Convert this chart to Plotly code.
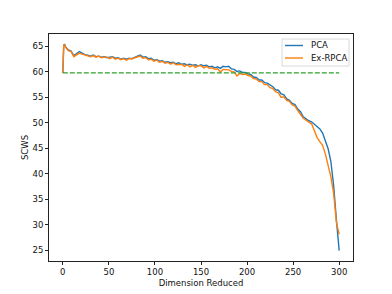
import plotly.graph_objects as go

x_vals = [0, 1, 2] + list(range(3, 301, 3))

pca = [59.8, 65.3, 65.4, 64.9, 64.3, 64.1, 63.2, 63.6, 64.0, 63.7, 63.4, 63.3,
       63.1, 63.3, 63.0, 63.1, 62.9, 63.0, 62.8, 62.9, 63.0, 62.7, 62.8, 62.5,
       62.7, 62.5, 62.7, 62.6, 62.9, 63.1, 63.3, 62.9, 63.0, 62.6, 62.7, 62.3,
       62.4, 62.1, 62.2, 61.9, 62.0, 61.8, 61.9, 61.6, 61.8, 61.5, 61.6, 61.4,
       61.5, 61.3, 61.4, 61.2, 61.4, 61.2, 61.3, 61.0, 61.1, 60.8, 61.0, 60.7,
       61.1, 61.0, 61.1, 60.6, 60.5, 60.1, 60.2, 59.9, 59.9, 59.6, 59.5, 59.0,
       58.9, 58.4, 58.4, 57.9, 57.8, 57.4, 57.1, 56.5, 56.4, 55.7, 55.5, 54.7,
       54.4, 53.8, 53.6, 52.7, 52.2, 51.2, 50.8, 50.4, 50.2, 49.7, 49.4, 48.8,
       48.0, 46.4, 44.9, 42.4, 37.6, 30.9, 24.9]

ex_rpca = [59.8, 65.2, 65.3, 64.8, 64.2, 64.0, 63.0, 63.4, 63.7, 63.5, 63.3, 63.2,
           63.0, 63.2, 62.9, 63.1, 62.8, 62.9, 62.9, 62.6, 62.9, 62.5, 62.7, 62.4,
           62.6, 62.3, 62.6, 62.6, 62.8, 62.9, 63.1, 62.7, 62.8, 62.4, 62.5, 62.1,
           62.3, 61.9, 62.1, 61.7, 61.9, 61.5, 61.8, 61.4, 61.5, 61.5, 61.1, 61.4,
           61.0, 61.3, 60.9, 61.2, 61.2, 60.8, 61.1, 60.7, 60.8, 60.5, 60.6, 60.0,
           60.5, 60.4, 60.4, 60.1, 60.0, 59.2, 59.7, 59.5, 59.6, 59.3, 59.2, 58.7,
           58.6, 58.1, 58.1, 57.5, 57.5, 56.9, 56.7, 56.1, 55.9, 55.0, 55.1, 54.4,
           54.2, 53.5, 53.3, 52.4, 51.7, 50.9, 50.5, 50.1, 49.8, 48.5, 47.1, 46.3,
           45.6, 43.9, 41.9, 39.4, 36.1, 30.4, 28.1]

baseline_x = [0, 300]
baseline_y = [59.8, 59.8]

series_names = ["PCA", "Ex-RPCA"]
series_colors = ["#1f77b4", "#ff7f0e"]

x_ticks = [0, 50, 100, 150, 200, 250, 300]
y_ticks = [25, 30, 35, 40, 45, 50, 55, 60, 65]

FONT = "DejaVu Sans"
# page body has an 8px default margin; size the figure so the window shows 392x294
OFF = 8
W, H = 392 - OFF, 294 - OFF
ML, MR, MT, MB = 49 - OFF, 39, 34 - OFF, 33

fig = go.Figure()
fig.add_trace(go.Scatter(x=x_vals, y=pca, mode="lines", name=series_names[0],
                         line=dict(color=series_colors[0], width=1.4)))
fig.add_trace(go.Scatter(x=x_vals, y=ex_rpca, mode="lines", name=series_names[1],
                         line=dict(color=series_colors[1], width=1.4)))
fig.add_trace(go.Scatter(x=baseline_x, y=baseline_y, mode="lines", showlegend=False,
                         line=dict(color="#2ca02c", width=1.3, dash="5px,2px")))

axis_common = dict(showgrid=False, zeroline=False, showline=True, mirror=True,
                   linecolor="#222", linewidth=0.8, ticks="outside", ticklen=3,
                   tickwidth=0.8, tickcolor="#222", automargin=False,
                   tickfont=dict(family=FONT, size=8.5, color="#111"))

fig.update_layout(
    width=W, height=H,
    margin=dict(l=ML, r=MR, t=MT, b=MB),
    paper_bgcolor="white", plot_bgcolor="white",
    showlegend=False,
    font=dict(family=FONT, size=8.5, color="#111"),
    xaxis=dict(range=[-15, 315], tickvals=x_ticks,
               title=dict(text="Dimension Reduced", standoff=3,
                          font=dict(family=FONT, size=8.5)), **axis_common),
    yaxis=dict(range=[22.85, 67.45], tickvals=y_ticks,
               title=dict(text="SCWS", standoff=2,
                          font=dict(family=FONT, size=8.5)), **axis_common),
)

# legend drawn in paper coordinates (matplotlib-style); args are window pixels
def px_to_paper_x(px):
    return (px - OFF - ML) / (W - ML - MR)

def px_to_paper_y(py):
    return 1 - (py - OFF - MT) / (H - MT - MB)

fig.add_shape(type="rect", xref="paper", yref="paper",
              x0=px_to_paper_x(282), x1=px_to_paper_x(349),
              y0=px_to_paper_y(66), y1=px_to_paper_y(39),
              line=dict(color="#d0d0d0", width=0.8), fillcolor="rgba(255,255,255,0.8)")
for i, (nm, col) in enumerate(zip(series_names, series_colors)):
    yy = 45.5 + i * 12.5
    fig.add_shape(type="line", xref="paper", yref="paper",
                  x0=px_to_paper_x(285), x1=px_to_paper_x(303),
                  y0=px_to_paper_y(yy), y1=px_to_paper_y(yy),
                  line=dict(color=col, width=1.4))
    fig.add_annotation(xref="paper", yref="paper", x=px_to_paper_x(309),
                       y=px_to_paper_y(yy), text=nm, showarrow=False,
                       xanchor="left", yanchor="middle",
                       font=dict(family=FONT, size=8.5, color="#111"))

fig.write_html("out.html")
